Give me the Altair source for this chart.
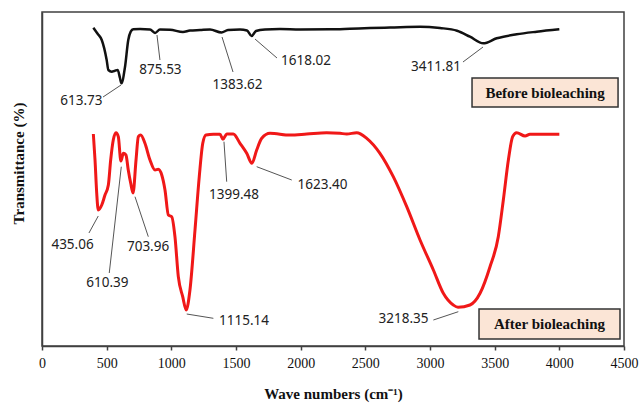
import altair as alt
import pandas as pd

# ---- Spectra (wave number in cm-1, transmittance in arbitrary units) ----
before_wn = [397, 430, 462, 500, 513, 539, 564, 585, 603, 614, 642, 667, 686, 706,
             758, 835, 874, 912, 990, 1090, 1144, 1222, 1299, 1388, 1438, 1531, 1585,
             1620, 1655, 1724, 1840, 1995, 2227, 2381, 2536, 2691, 2923, 3077, 3209,
             3309, 3412, 3516, 3670, 3825, 4000]
before_t = [318.3, 312.2, 306, 286, 276, 274.3, 275.3, 276, 268, 262.7, 279.3, 306, 314.3, 316.7,
            317, 316.5, 313, 316.5, 316.3, 314, 315.5, 316, 316.5, 313.5, 316, 316.5, 315.5,
            310, 315, 316.5, 317, 316.5, 316.7, 317.3, 318, 318.5, 319.3, 318, 315.3,
            309.3, 302.7, 307.7, 311.7, 314.3, 316.7]

after_wn = [397, 410, 423, 435, 462, 487, 513, 531, 551, 572, 590, 610, 629, 649, 667, 686,
            704, 727, 745, 763, 796, 835, 874, 899, 926, 951, 977, 1003, 1028, 1054, 1088,
            1115, 1144, 1183, 1216, 1243, 1268, 1325, 1376, 1399, 1428, 1479, 1531, 1583,
            1623, 1660, 1699, 1763, 1918, 2047, 2201, 2304, 2356, 2433, 2511, 2613, 2716,
            2820, 2923, 3026, 3103, 3180, 3217, 3309, 3387, 3464, 3528, 3567, 3606, 3639,
            3670, 3735, 3773, 4000]
after_t = [212, 186, 153, 136, 141, 151, 161, 186, 206, 213.3, 209.3, 185, 192.7, 191, 176, 162.7,
           153, 186, 209.3, 211, 202.7, 186, 176, 176.7, 171, 156, 131, 129.3, 109.3, 69.3, 49.3,
           36, 56, 116, 169.3, 202.7, 211, 211.7, 211.7, 206.7, 212, 212, 202.7, 192.7,
           182.7, 196, 207.7, 212.7, 211, 212, 213.3, 212.7, 212, 213.3, 207.7, 192.7, 169.3,
           139.3, 106, 76, 52.7, 41, 38.7, 41, 52.7, 79.3, 109.3, 146, 186, 209.3,
           213.3, 210, 211.7, 211.7]

# ---- Peak annotations ----
peak_text = ["613.73", "875.53", "1383.62", "1618.02", "3411.81",
             "435.06", "610.39", "703.96", "1115.14", "1399.48", "1623.40", "3218.35"]
peak_text_x = [305, 916, 1512, 2041, 3046, 236, 506, 820, 1562, 1485, 2169, 2795]
peak_text_y = [245, 276, 261, 285, 279, 101, 63, 99.3, 25.3, 151, 161, 27]
lead_x1 = [611, 889, 1392, 1647, 3410, 435, 613, 719, 1119, 1407, 1660, 3026]
lead_y1 = [261, 311, 309, 307, 299, 130, 179.3, 149.3, 32, 204.3, 179.3, 26]
lead_x2 = [472, 912, 1477, 1817, 3255, 363, 520, 822, 1325, 1428, 1931, 3219]
lead_y2 = [249, 286, 274, 288, 284, 113, 73, 109.3, 27.7, 164.3, 166, 34.3]

# ---- Sample boxes ----
box_text = ["Before bioleaching", "After bioleaching"]
box_x1 = [3325, 3379]
box_x2 = [4454, 4469]
box_y1 = [268, 37]
box_y2 = [239, 7]

before_df = pd.DataFrame({"x": before_wn, "y": before_t})
after_df = pd.DataFrame({"x": after_wn, "y": after_t})
peaks_df = pd.DataFrame({"label": peak_text, "x": peak_text_x, "y": peak_text_y,
                         "lx1": lead_x1, "ly1": lead_y1, "lx2": lead_x2, "ly2": lead_y2})
box_df = pd.DataFrame({"label": box_text, "x1": box_x1, "x2": box_x2,
                       "y1": box_y1, "y2": box_y2})
box_df["xc"] = (box_df["x1"] + box_df["x2"]) / 2
box_df["yc"] = (box_df["y1"] + box_df["y2"]) / 2

xscale = alt.Scale(domain=[0, 4500], nice=False, zero=False)
yscale = alt.Scale(domain=[0, 334], nice=False, zero=False)

x_axis = alt.Axis(
    title="Wave numbers (cm⁻¹)", values=list(range(0, 4501, 500)), grid=False,
    labelFont="Liberation Serif", labelFontSize=14, labelColor="#111",
    labelPadding=6, tickSize=4, tickColor="#404040", tickWidth=1.5,
    domainColor="#404040", domainWidth=1.5, labelFlush=False,
    titleFont="Liberation Serif", titleFontSize=15, titleFontWeight="bold",
    titleColor="#111", titleY=52, titleBaseline="alphabetic", format="d",
)
y_axis = alt.Axis(
    title="Transmittance (%)", labels=False, ticks=False, grid=False,
    domainColor="#404040", domainWidth=1.5,
    titleFont="Liberation Serif", titleFontSize=15, titleFontWeight="bold",
    titleColor="#111", titleAngle=270, titleAlign="center", titleBaseline="middle",
    titleX=-24, titleY=151,
)

X = lambda f: alt.X(f, scale=xscale, axis=x_axis, title="Wave numbers (cm⁻¹)")
Y = lambda f: alt.Y(f, scale=yscale, axis=y_axis, title="Transmittance (%)")

before_line = alt.Chart(before_df).mark_line(
    color="#111111", strokeWidth=2.5, interpolate="monotone"
).encode(x=X("x:Q"), y=Y("y:Q"))

after_line = alt.Chart(after_df).mark_line(
    color="#F01818", strokeWidth=3, interpolate="monotone"
).encode(x=X("x:Q"), y=Y("y:Q"))

leaders = alt.Chart(peaks_df).mark_rule(color="#555555", strokeWidth=1).encode(
    x=X("lx1:Q"), x2="lx2:Q", y=Y("ly1:Q"), y2="ly2:Q")

peak_labels = alt.Chart(peaks_df).mark_text(
    font="Noto Sans", fontSize=13.5, color="#222222", align="center", baseline="middle"
).encode(x=X("x:Q"), y=Y("y:Q"), text="label:N")

boxes = alt.Chart(box_df).mark_rect(
    fill="#FBE5D6", stroke="#333333", strokeWidth=1.5
).encode(x=X("x1:Q"), x2="x2:Q", y=Y("y1:Q"), y2="y2:Q")

box_labels = alt.Chart(box_df).mark_text(
    font="Liberation Serif", fontSize=15, fontWeight="bold", color="#111111",
    align="center", baseline="middle"
).encode(x=X("xc:Q"), y=Y("yc:Q"), text="label:N")

chart = alt.layer(before_line, after_line, leaders, peak_labels, boxes, box_labels).properties(
    width=582, height=334,
    autosize=alt.AutoSizeParams(type="none"),
    padding={"left": 42, "top": 12, "right": 16, "bottom": 57},
    background="white",
).configure_view(stroke="#404040", strokeWidth=1.5)

chart.save("out.html", embed_options={"renderer": "svg", "actions": False})
